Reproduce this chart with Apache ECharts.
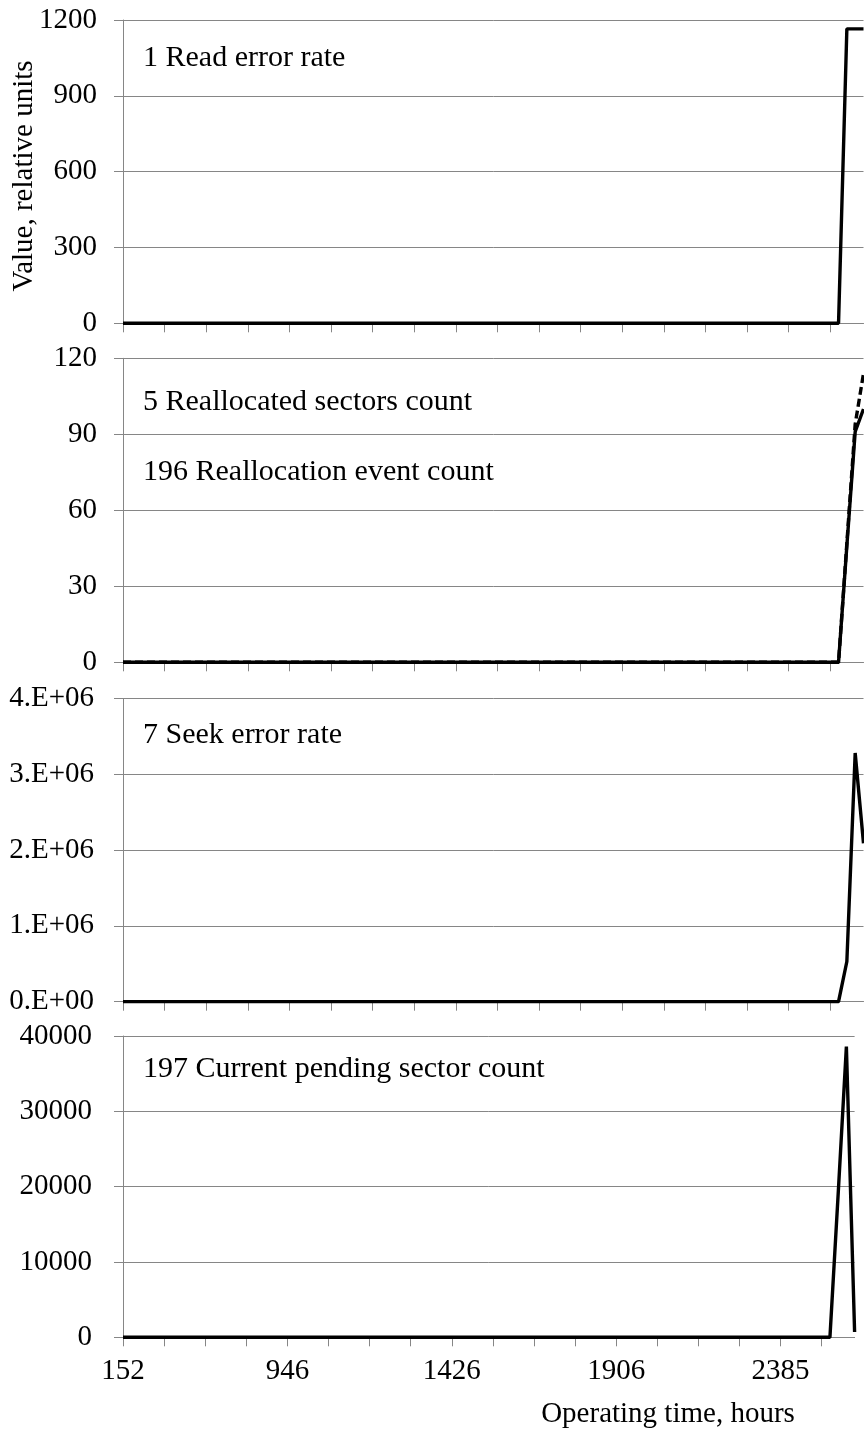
<!DOCTYPE html>
<html>
<head>
<meta charset="utf-8">
<script src="https://cdn.jsdelivr.net/npm/echarts@6/dist/echarts.min.js"></script>
<style>
html,body{margin:0;padding:0;background:#fff;}
#chart{width:864px;height:1435px;}
</style>
</head>
<body>
<div id="chart"></div>
<script>
// Operating time, hours (category axis)
const hours = [
  152,190,230,270,310,350,390,430,470,510,550,590,630,670,710,750,790,830,870,906,946,
  970,994,1018,1042,1066,1090,1114,1138,1162,1186,1210,1234,1258,1282,1306,1330,1354,1378,1402,1426,
  1450,1474,1498,1522,1546,1570,1594,1618,1642,1666,1690,1714,1738,1762,1786,1810,1834,1858,1882,1906,
  1930,1954,1978,2002,2026,2050,2074,2098,2122,2146,2170,2194,2218,2242,2266,2290,2314,2338,2362,2385,
  2409,2433,2457,2481,2505,2529,2553,2577,2601
];

// 1 Read error rate
const readErrorRate = [
  0,0,0,0,0,0,0,0,0,0,
  0,0,0,0,0,0,0,0,0,0,
  0,0,0,0,0,0,0,0,0,0,
  0,0,0,0,0,0,0,0,0,0,
  0,0,0,0,0,0,0,0,0,0,
  0,0,0,0,0,0,0,0,0,0,
  0,0,0,0,0,0,0,0,0,0,
  0,0,0,0,0,0,0,0,0,0,
  0,0,0,0,0,0,0,1165,1165,1165
];

// 5 Reallocated sectors count (solid)
const reallocatedSectors = [
  0,0,0,0,0,0,0,0,0,0,
  0,0,0,0,0,0,0,0,0,0,
  0,0,0,0,0,0,0,0,0,0,
  0,0,0,0,0,0,0,0,0,0,
  0,0,0,0,0,0,0,0,0,0,
  0,0,0,0,0,0,0,0,0,0,
  0,0,0,0,0,0,0,0,0,0,
  0,0,0,0,0,0,0,0,0,0,
  0,0,0,0,0,0,0,46,91,100
];

// 196 Reallocation event count (dashed)
const reallocationEvents = [
  0,0,0,0,0,0,0,0,0,0,
  0,0,0,0,0,0,0,0,0,0,
  0,0,0,0,0,0,0,0,0,0,
  0,0,0,0,0,0,0,0,0,0,
  0,0,0,0,0,0,0,0,0,0,
  0,0,0,0,0,0,0,0,0,0,
  0,0,0,0,0,0,0,0,0,0,
  0,0,0,0,0,0,0,0,0,0,
  0,0,0,0,0,0,0,47,94,114
];

// 7 Seek error rate
const seekErrorRate = [
  0,0,0,0,0,0,0,0,0,0,
  0,0,0,0,0,0,0,0,0,0,
  0,0,0,0,0,0,0,0,0,0,
  0,0,0,0,0,0,0,0,0,0,
  0,0,0,0,0,0,0,0,0,0,
  0,0,0,0,0,0,0,0,0,0,
  0,0,0,0,0,0,0,0,0,0,
  0,0,0,0,0,0,0,0,0,0,
  0,0,0,0,0,0,0,530000,3280000,2090000
];

// 197 Current pending sector count
const pendingSectors = [
  0,0,0,0,0,0,0,0,0,0,
  0,0,0,0,0,0,0,0,0,0,
  0,0,0,0,0,0,0,0,0,0,
  0,0,0,0,0,0,0,0,0,0,
  0,0,0,0,0,0,0,0,0,0,
  0,0,0,0,0,0,0,0,0,0,
  0,0,0,0,0,0,0,0,0,0,
  0,0,0,0,0,0,0,0,0,0,
  0,0,0,0,0,0,0,19000,38600,700
];

const panelLabels = [
  ['1 Read error rate'],
  ['5 Reallocated sectors count', '196 Reallocation event count'],
  ['7 Seek error rate'],
  ['197 Current pending sector count']
];
const yMax = [1200, 120, 4000000, 40000];
const yStep = [300, 30, 1000000, 10000];
const xAxisTitle = 'Operating time, hours';
const yAxisTitle = 'Value, relative units';

const FONT = '"Liberation Serif", "Times New Roman", serif';
const GRAY = '#868686';

const grids = [
  {left: 123, top: 20,    width: 740.5, height: 303.3},
  {left: 123, top: 358.3, width: 740.5, height: 304},
  {left: 123, top: 698.4, width: 740.5, height: 303.3},
  {left: 123, top: 1036,  width: 731.6, height: 301.3}
];
const labelMargins = [26, 26, 29, 31];

function sciFmt(v) {
  if (v === 0) return '0.E+00';
  const e = Math.floor(Math.log10(v));
  const m = Math.round(v / Math.pow(10, e));
  return m + '.E+' + (e < 10 ? '0' + e : e);
}
function plainFmt(v) { return String(v); }

const xAxes = grids.map((g, i) => ({
  type: 'category',
  gridIndex: i,
  data: hours,
  boundaryGap: false,
  axisLine: {lineStyle: {color: GRAY, width: 1}},
  axisTick: {show: true, interval: 4, length: 9, lineStyle: {color: GRAY}},
  axisLabel: {
    show: i === 3, interval: 19, margin: 20,
    fontFamily: FONT, fontSize: 29, color: '#000'
  },
  splitLine: {show: false}
}));

const yAxes = grids.map((g, i) => ({
  type: 'value',
  gridIndex: i,
  min: 0, max: yMax[i], interval: yStep[i],
  axisLine: {show: true, lineStyle: {color: GRAY, width: 1}},
  axisTick: {show: true, length: 9, lineStyle: {color: GRAY}},
  splitLine: {show: true, lineStyle: {color: GRAY, width: 1}},
  axisLabel: {
    margin: labelMargins[i], fontFamily: FONT, fontSize: 29, color: '#000',
    formatter: i === 2 ? sciFmt : plainFmt
  }
}));

function lineSeries(name, data, idx, dashed) {
  return {
    name: name, type: 'line', xAxisIndex: idx, yAxisIndex: idx,
    data: data, symbol: 'none', silent: true, z: 5,
    lineStyle: {color: '#000', width: 3.4, type: dashed ? [8, 4] : 'solid'}
  };
}

const labelTop = [[43], [387, 457], [720], [1054]];
const graphics = [];
panelLabels.forEach((arr, i) => {
  arr.forEach((t, j) => {
    graphics.push({
      type: 'text', left: 143, top: labelTop[i][j],
      style: {text: t, font: '30px ' + FONT, fill: '#000'}
    });
  });
});
graphics.push({
  type: 'text', x: 24, y: 176, rotation: Math.PI / 2,
  style: {text: yAxisTitle, font: '29px ' + FONT, fill: '#000', align: 'center', verticalAlign: 'middle'}
});
graphics.push({
  type: 'text', x: 668, y: 1414,
  style: {text: xAxisTitle, font: '29px ' + FONT, fill: '#000', align: 'center', verticalAlign: 'middle'}
});

const chart = echarts.init(document.getElementById('chart'), null, {renderer: 'canvas'});
chart.setOption({
  animation: false,
  backgroundColor: '#fff',
  grid: grids,
  xAxis: xAxes,
  yAxis: yAxes,
  series: [
    lineSeries('1 Read error rate', readErrorRate, 0, false),
    lineSeries('5 Reallocated sectors count', reallocatedSectors, 1, false),
    lineSeries('196 Reallocation event count', reallocationEvents, 1, true),
    lineSeries('7 Seek error rate', seekErrorRate, 2, false),
    lineSeries('197 Current pending sector count', pendingSectors, 3, false)
  ],
  graphic: graphics
});
</script>
</body>
</html>
